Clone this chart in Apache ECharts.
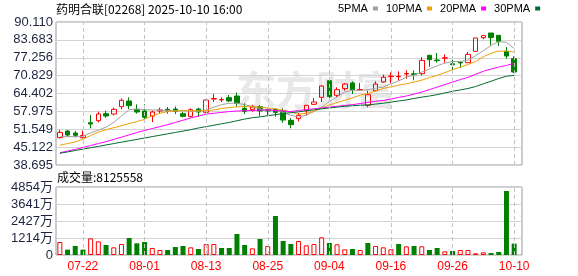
<!DOCTYPE html>
<html><head><meta charset="utf-8">
<script src="https://cdn.jsdelivr.net/npm/echarts@6/dist/echarts.min.js"></script>
<style>html,body{margin:0;padding:0;background:#fff}#c{width:578px;height:276px}</style>
</head><body><div id="c"></div>
<script>
const titleText = '药明合联[02268] 2025-10-10 16:00';
const volTitle = '成交量:8125558';
const dates = ['07-17','07-18','07-21','07-22','07-23','07-24','07-25','07-28','07-29','07-30',
 '07-31','08-01','08-04','08-05','08-06','08-07','08-08','08-11','08-12','08-13',
 '08-14','08-15','08-18','08-19','08-20','08-21','08-22','08-25','08-26','08-27',
 '08-28','08-29','09-01','09-02','09-03','09-04','09-05','09-08','09-09','09-10',
 '09-11','09-12','09-15','09-16','09-17','09-18','09-19','09-22','09-23','09-24',
 '09-25','09-26','09-29','09-30','10-02','10-03','10-06','10-08','10-09','10-10'];
const xTickLabels = ['07-22','08-01','08-13','08-25','09-04','09-16','09-26','10-10'];
const priceTickLabels = ['38.695','45.122','51.549','57.975','64.402','70.829','77.256','83.683','90.110'];
const volTickLabels = ['0','1214万','2427万','3641万','4854万'];
const priceMin = 38.695, priceMax = 90.110, volMax = 48540000;

const opens = [48.51,50.91,50.19,48.51,53.91,54.63,57.15,57.03,59.66,61.71,
 58.71,58.11,56.31,58.11,58.71,58.82,57.14,56.18,58.82,57.62,
 62.40,62.10,62.90,63.50,59.06,58.58,59.66,58.70,58.70,58.34,
 54.75,55.35,58.23,60.51,63.02,69.02,63.74,66.14,68.18,65.70,
 60.15,65.42,68.54,70.50,70.45,71.45,71.50,71.53,78.12,76.45,
 77.10,75.10,75.60,75.49,79.56,84.48,86.15,85.32,79.56,76.92];
const closes = [50.43,49.47,49.36,49.30,53.43,57.03,56.31,58.71,61.95,60.03,
 57.75,55.83,57.75,58.47,58.11,57.98,56.18,58.58,57.74,62.06,
 62.60,62.25,61.70,60.86,57.98,59.54,58.10,58.10,57.62,54.86,
 53.20,56.55,60.15,61.35,67.10,63.26,65.78,67.82,65.78,65.85,
 63.98,67.82,70.22,70.65,70.60,71.60,71.15,76.32,76.56,76.20,
 77.25,74.75,75.40,78.48,84.36,85.20,84.48,83.16,77.88,72.13];
const lows = [48.29,48.87,48.63,48.27,51.88,54.03,55.71,56.55,58.71,58.83,
 57.15,54.87,54.15,57.15,57.15,57.02,55.82,55.82,56.06,57.26,
 61.34,61.34,61.34,59.66,57.02,57.86,56.30,56.42,56.06,53.90,
 51.89,54.39,56.55,60.30,61.35,62.18,63.02,65.42,64.22,65.42,
 59.43,65.18,68.18,68.18,69.02,69.74,69.14,70.93,73.93,75.49,
 75.49,72.73,73.57,75.37,79.56,83.88,81.72,81.48,76.92,71.77];
const highs = [51.27,51.27,50.91,51.03,56.67,57.87,58.23,59.31,62.66,63.02,
 60.51,60.51,58.23,59.31,59.55,59.78,57.74,59.06,59.30,62.20,
 64.22,63.02,63.86,64.70,60.86,60.26,60.26,59.06,59.06,59.06,
 55.59,57.39,60.20,62.78,67.34,69.38,66.62,68.18,68.78,68.18,
 65.42,68.78,71.17,72.01,72.37,72.73,72.73,77.52,78.36,78.96,
 78.48,76.69,75.97,79.32,84.36,85.20,86.15,85.32,81.12,77.76];

const ma5 = [48.9,48.9,48.9,48.9,50.3,51.2,52.3,54.0,56.3,58.6,
 58.8,58.6,58.5,58.4,58.3,58.2,58.2,58.0,58.0,58.5,
 59.5,60.4,60.9,60.9,60.4,59.7,58.8,58.5,58.3,57.6,
 56.6,55.9,56.6,57.9,59.5,61.5,63.2,64.9,65.6,65.5,
 65.8,66.3,66.7,67.9,68.9,70.3,71.0,72.1,73.2,74.4,
 75.3,75.9,75.9,76.4,78.0,79.8,81.7,83.0,82.8,80.6];
const ma10 = [45.8,46.4,47.0,48.0,49.3,50.5,51.4,52.1,52.8,53.6,
 54.3,55.1,56.4,57.3,57.9,58.1,58.2,58.2,58.2,58.2,
 58.5,59.0,59.4,59.6,59.7,59.7,59.5,59.2,58.9,58.3,
 57.8,56.9,57.3,58.0,59.2,60.3,61.1,62.0,62.8,63.8,
 64.4,65.3,66.2,66.8,67.4,67.9,68.5,69.2,70.1,70.9,
 71.9,73.0,73.9,74.8,75.9,77.6,78.9,79.6,79.7,79.3];
const ma20 = [43.1,43.7,44.3,45.0,45.7,46.4,47.1,47.9,48.7,49.5,
 50.4,51.1,51.8,52.5,53.2,54.0,54.8,55.6,56.3,57.0,
 57.3,57.6,57.9,58.1,58.2,58.3,58.4,58.5,58.3,58.1,
 57.9,58.3,58.6,58.9,59.2,59.5,59.8,60.1,60.4,60.8,
 61.2,61.6,61.9,62.4,63.0,63.5,64.2,64.9,65.8,66.7,
 67.6,68.5,69.4,70.2,71.3,72.4,73.2,73.9,74.5,75.2];
const ma30 = [42.9,43.4,43.9,44.4,44.9,45.4,45.9,46.4,46.9,47.4,
 47.9,48.4,48.9,49.4,49.9,50.4,50.9,51.4,52.0,52.5,
 53.0,53.5,54.0,54.6,55.2,55.7,56.0,56.4,56.8,57.2,
 57.5,57.8,58.2,58.5,58.9,59.2,59.5,59.8,60.0,60.2,
 60.3,60.6,60.9,61.3,61.7,62.1,62.6,63.1,63.5,64.0,
 64.6,65.2,65.7,66.2,66.9,67.9,68.8,69.8,70.6,70.95];

const volumes = [9280000,3810000,6420000,3810000,11900000,9750000,7140000,5470000,7850000,12130000,
 8330000,9280000,5000000,3570000,3570000,5710000,6420000,5470000,4280000,7850000,
 7850000,5000000,5000000,14990000,7140000,4760000,11420000,6420000,27830000,9990000,
 7850000,9990000,6900000,7850000,12610000,8560000,7610000,4040000,4280000,3570000,
 8560000,6420000,5470000,4040000,7850000,6190000,6420000,6190000,3570000,5000000,
 2620000,2850000,3570000,3570000,1190000,1900000,1430000,2140000,45680000,8125558];
const volUp = [1,0,0,0,1,1,0,1,1,0,
 0,0,1,1,0,0,0,1,0,1,
 1,0,0,0,0,1,0,1,0,0,
 0,1,1,1,1,0,1,1,0,1,
 0,1,1,1,0,1,0,1,0,0,
 1,0,1,1,1,1,0,0,0,0];

const RED = '#ff0000', GREEN = '#008000';
const maColors = ['#a0a0a0', '#f0a000', '#ff00ff', '#006b2e'];
const labelColor = '#1e2440';

const vLines = {
  silent: true, symbol: ['none','none'], label: {show: false},
  lineStyle: {color: '#c4c4c4', type: [4,3], width: 1},
  emphasis: {disabled: true},
  data: xTickLabels.map(d => ({xAxis: d}))
};

const chart = echarts.init(document.getElementById('c'), null, {renderer: 'canvas'});
chart.setOption({
  animation: false,
  title: [
    {text: titleText, left: 56, top: 3, padding: 0,
     textStyle: {fontSize: 12, fontWeight: 'normal', color: '#000', fontFamily: '"Noto Sans CJK SC", sans-serif'}},
    {text: volTitle, left: 57, top: 171, padding: 0,
     textStyle: {fontSize: 12, fontWeight: 'normal', color: '#000', fontFamily: '"Noto Sans CJK SC", sans-serif'}}
  ],
  legend: {
    left: 338, top: 3, padding: 0, itemWidth: 5, itemHeight: 4, itemGap: 8, align: 'right',
    selectedMode: false, icon: 'rect',
    textStyle: {fontSize: 11, color: '#000', fontFamily: '"Liberation Sans Narrow", "Liberation Sans", sans-serif'},
    data: ['5PMA','10PMA','20PMA','30PMA']
  },
  graphic: [{type: 'text', left: 236, top: 70, z: -1, silent: true,
    style: {text: '东方财富', fill: '#e8e8e8', font: 'bold 40px "Noto Sans CJK SC"'}}],
  grid: [
    {left: 56, top: 22, width: 466, height: 143, show: true, borderColor: '#999', borderWidth: 1, backgroundColor: 'transparent'},
    {left: 56, top: 22, width: 462, height: 143},
    {left: 56, top: 187, width: 466, height: 68, show: true, borderColor: '#999', borderWidth: 1, backgroundColor: 'transparent'},
    {left: 56, top: 187, width: 462, height: 68}
  ],
  xAxis: [
    {gridIndex: 0, type: 'value', min: 0, max: 1, show: false},
    {gridIndex: 1, type: 'category', data: dates, boundaryGap: true, axisLine: {show: false}, axisTick: {show: false}, axisLabel: {show: false}, splitLine: {show: false}},
    {gridIndex: 2, type: 'value', min: 0, max: 1, show: false},
    {gridIndex: 3, type: 'category', data: dates, boundaryGap: true, axisLine: {show: false}, axisTick: {show: false}, splitLine: {show: false},
     axisLabel: {show: true, interval: (i, v) => xTickLabels.includes(v), color: RED, fontSize: 12, margin: 6,
       fontFamily: '"Liberation Sans", sans-serif', hideOverlap: false}}
  ],
  yAxis: [
    {gridIndex: 0, type: 'value', min: 0, max: 8, interval: 1, axisLine: {show: false}, axisTick: {show: false},
     axisLabel: {formatter: v => priceTickLabels[v], color: labelColor, fontSize: 13, margin: 3, fontFamily: '"Liberation Sans", sans-serif'},
     splitLine: {show: true, lineStyle: {color: '#d4d4d4', width: 1}}},
    {gridIndex: 1, type: 'value', min: priceMin, max: priceMax, show: false, splitLine: {show: false}},
    {gridIndex: 2, type: 'value', min: 0, max: 4, interval: 1, axisLine: {show: false}, axisTick: {show: false},
     axisLabel: {formatter: v => volTickLabels[v], color: labelColor, fontSize: 13, margin: 3, fontFamily: '"Liberation Sans", "Noto Sans CJK SC", sans-serif'},
     splitLine: {show: true, lineStyle: {color: '#d4d4d4', width: 1}}},
    {gridIndex: 3, type: 'value', min: 0, max: volMax, show: false, splitLine: {show: false}}
  ],
  series: [
    {type: 'candlestick', name: 'K', xAxisIndex: 1, yAxisIndex: 1, barWidth: 5,
     data: opens.map((o, i) => [o, closes[i], lows[i], highs[i]]),
     itemStyle: {color: 'transparent', color0: GREEN, borderColor: RED, borderColor0: GREEN, borderWidth: 1},
     markLine: vLines},
    ...[ma5, ma10, ma20, ma30].map((arr, k) => ({
      type: 'line', name: ['5PMA','10PMA','20PMA','30PMA'][k], xAxisIndex: 1, yAxisIndex: 1,
      data: arr, showSymbol: false, symbol: 'none', smooth: false,
      lineStyle: {color: maColors[k], width: 1}, itemStyle: {color: maColors[k]}, z: 3
    })),
    {type: 'bar', name: 'VOL', xAxisIndex: 3, yAxisIndex: 3, barWidth: 5,
     data: volumes.map((v, i) => ({value: v, itemStyle: volUp[i]
       ? {color: 'transparent', borderColor: RED, borderWidth: 1}
       : {color: GREEN, borderWidth: 0}})),
     markLine: vLines}
  ]
});
</script></body></html>
